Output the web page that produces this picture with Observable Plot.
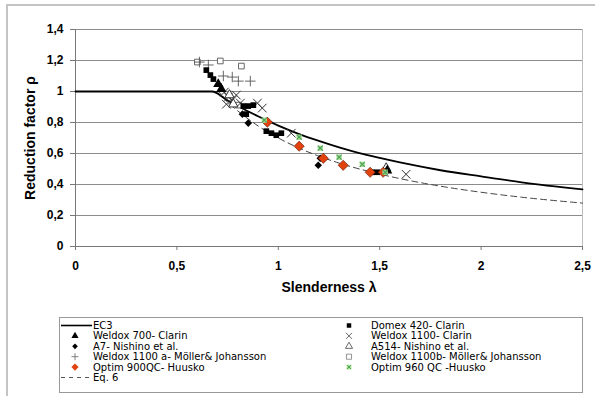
<!DOCTYPE html>
<html>
<head>
<meta charset="utf-8">
<script src="https://cdn.jsdelivr.net/npm/d3@7"></script>
<script src="https://cdn.jsdelivr.net/npm/@observablehq/plot@0.6"></script>
<style>
  html, body { margin: 0; padding: 0; background: #fff; }
  body { width: 595px; height: 396px; position: relative; overflow: hidden; font-family: "Liberation Sans", Arial, sans-serif; }
  #frame { position: absolute; left: 6px; top: 4px; width: 620px; height: 420px; border-left: 2px solid #c4c4c4; border-top: 2px solid #c4c4c4; }
  #chart { position: absolute; left: 0; top: 0; }
  #chart svg text { font-weight: bold; }
  #legend { position: absolute; left: 59px; top: 317px; width: 522px; height: 74px; border: 1px solid #999; background: #fff; }
</style>
</head>
<body>
<div id="frame"></div>
<div id="chart"></div>
<div id="legend"></div>
<script>
// ---- data ----
const xTicks = [0, 0.5, 1, 1.5, 2, 2.5];
const yTicks = [0, 0.2, 0.4, 0.6, 0.8, 1, 1.2, 1.4];

const ec3Lambda = [0, 0.673, 0.75, 0.8, 0.9, 1.0, 1.1, 1.2, 1.3, 1.4, 1.5, 1.6, 1.8, 2.0, 2.2, 2.5];
const ec3Rho    = [1, 1, 0.942, 0.906, 0.84, 0.78, 0.727, 0.681, 0.639, 0.602, 0.571, 0.542, 0.492, 0.452, 0.414, 0.368];

const eq6Lambda = [0, 0.7, 0.75, 0.8, 0.9, 1.0, 1.1, 1.2, 1.3, 1.4, 1.5, 1.6, 1.8, 2.0, 2.2, 2.5];
const eq6Rho    = [1, 1, 0.93, 0.875, 0.778, 0.70, 0.636, 0.583, 0.538, 0.50, 0.467, 0.438, 0.389, 0.35, 0.318, 0.28];

const weldox700Lambda = [0.704, 0.719, 1.537];
const weldox700Rho    = [1.048, 1.016, 0.49];

const domexLambda = [0.645, 0.665, 0.68, 0.828, 0.852, 0.877, 0.842, 0.941, 0.966, 0.99, 1.015, 1.463, 1.488];
const domexRho    = [1.138, 1.106, 1.08, 0.906, 0.906, 0.912, 0.854, 0.744, 0.731, 0.718, 0.731, 0.479, 0.479];

const a7Lambda = [0.852, 0.823, 1.197, 1.207];
const a7Rho    = [0.796, 0.854, 0.524, 0.569];

const weldox1100Lambda = [0.734, 0.754, 0.773, 0.793, 0.744, 0.813, 0.897, 0.921, 1.064, 1.63];
const weldox1100Rho    = [0.996, 0.964, 0.944, 0.977, 0.918, 0.925, 0.925, 0.893, 0.731, 0.466];

const a514Lambda = [0.759, 0.778, 1.532];
const a514Rho    = [0.977, 0.918, 0.505];

const weldox1100aLambda = [0.611, 0.655, 0.729, 0.773, 0.803, 0.862];
const weldox1100aRho    = [1.19, 1.171, 1.10, 1.093, 1.067, 1.067];

const weldox1100bLambda = [0.601, 0.714, 0.818, 0.803];
const weldox1100bRho    = [1.19, 1.197, 1.164, 0.912];

const optim900Lambda = [0.946, 1.103, 1.222, 1.32, 1.453, 1.517];
const optim900Rho    = [0.802, 0.647, 0.569, 0.524, 0.479, 0.479];

const optim960Lambda = [0.931, 1.103, 1.207, 1.30, 1.414, 1.527];
const optim960Rho    = [0.815, 0.705, 0.634, 0.576, 0.53, 0.479];

const legendLeft = ["EC3", "Weldox 700- Clarin", "A7- Nishino et al.", "Weldox 1100 a- Möller& Johansson", "Optim 900QC- Huusko", "Eq. 6"];
const legendRight = ["Domex 420- Clarin", "Weldox 1100- Clarin", "A514- Nishino et al.", "Weldox 1100b- Möller& Johansson", "Optim 960 QC -Huusko"];

// ---- helpers ----
const zip = (xs, ys) => xs.map((x, i) => ({x, y: ys[i]}));
const comma = d => String(d).replace(".", ",");

const red = "#e2430e";
const greenFill = "#a6e48a";
const greenX = "#4f9a63";

const chart = Plot.plot({
  width: 595,
  height: 310,
  marginLeft: 75,
  marginRight: 13,
  marginTop: 29,
  marginBottom: 64,
  style: {fontFamily: "'Liberation Sans', Arial, sans-serif", fontSize: "12px", background: "transparent"},
  x: {domain: [0, 2.5]},
  y: {domain: [0, 1.4]},
  marks: [
    Plot.ruleY(yTicks, {stroke: "#8c8c8c", strokeWidth: 1}),
    Plot.ruleX([2.5], {stroke: "#bdbdbd"}),
    Plot.ruleX([0], {stroke: "#777"}),
    Plot.ruleY([0], {stroke: "#777"}),
    Plot.axisX({ticks: xTicks, tickFormat: comma, tickSize: 4, tickPadding: 11, stroke: "#777", fontSize: 12, label: null}),
    Plot.axisY({ticks: yTicks, tickFormat: comma, tickSize: 5, tickPadding: 7, stroke: "#777", fontSize: 12, label: null}),
    Plot.text(["Slenderness λ"], {frameAnchor: "bottom", dy: 45, fontSize: 14, fontWeight: "bold", textAnchor: "middle"}),
    Plot.text(["Reduction factor ρ"], {frameAnchor: "left", dx: -45, rotate: -90, fontSize: 14, fontWeight: "bold", textAnchor: "middle"}),
    Plot.line(zip(eq6Lambda, eq6Rho), {x: "x", y: "y", stroke: "#444", strokeWidth: 1, strokeDasharray: "6,4", curve: "monotone-x"}),
    Plot.line(zip(ec3Lambda, ec3Rho), {x: "x", y: "y", stroke: "#000", strokeWidth: 1.8, curve: "monotone-x"}),
    Plot.dot(zip(weldox1100bLambda, weldox1100bRho), {x: "x", y: "y", symbol: "square", r: 3.2, fill: "#fff", stroke: "#666", strokeWidth: 1}),
    Plot.dot(zip(weldox1100aLambda, weldox1100aRho), {x: "x", y: "y", symbol: "plus", r: 3.5, stroke: "#555", strokeWidth: 0.9}),
    Plot.dot(zip(weldox1100Lambda, weldox1100Rho), {x: "x", y: "y", symbol: "times", r: 4, stroke: "#333", strokeWidth: 1}),
    Plot.dot(zip(a514Lambda, a514Rho), {x: "x", y: "y", symbol: "triangle", r: 3.5, fill: "#fff", stroke: "#333", strokeWidth: 1}),
    Plot.dot(zip(domexLambda, domexRho), {x: "x", y: "y", symbol: "square", r: 3.2, fill: "#000", stroke: "none"}),
    Plot.dot(zip(weldox700Lambda, weldox700Rho), {x: "x", y: "y", symbol: "triangle", r: 3.8, fill: "#000", stroke: "none"}),
    Plot.dot(zip(a7Lambda, a7Rho), {x: "x", y: "y", symbol: "diamond2", r: 3.4, fill: "#000", stroke: "none"}),
    Plot.dot(zip(optim900Lambda, optim900Rho), {x: "x", y: "y", symbol: "diamond2", r: 4.6, fill: red, stroke: "#5a1a06", strokeWidth: 0.6}),
    Plot.dot(zip(optim960Lambda, optim960Rho), {x: "x", y: "y", symbol: "square", r: 3, fill: greenFill, stroke: "none"}),
    Plot.dot(zip(optim960Lambda, optim960Rho), {x: "x", y: "y", symbol: "times", r: 2.4, stroke: greenX, strokeWidth: 1.1})
  ]
});
document.getElementById("chart").appendChild(chart);

// ---- legend ----
const lg = d3.select("#legend").append("svg").attr("width", 522).attr("height", 74)
  .style("font-family", "'DejaVu Sans', 'Liberation Sans', Arial, sans-serif").style("font-size", "10px");
const rowY = i => 7.5 + i * 10.4;
const sym = (type, size) => d3.symbol().type(type).size(size)();
legendLeft.forEach((t, i) => {
  const g = lg.append("g").attr("transform", `translate(15,${rowY(i)})`);
  if (i === 0) g.append("line").attr("x1", -14).attr("x2", 17).attr("stroke", "#000").attr("stroke-width", 1.6);
  if (i === 1) g.append("path").attr("d", sym(d3.symbolTriangle, 22)).attr("fill", "#000");
  if (i === 2) g.append("path").attr("d", sym(d3.symbolSquare, 16)).attr("transform", "rotate(45)").attr("fill", "#000");
  if (i === 3) g.append("path").attr("d", "M-3.5,0H3.5M0,-3.5V3.5").attr("stroke", "#666").attr("stroke-width", 0.8);
  if (i === 4) g.append("path").attr("d", sym(d3.symbolSquare, 26)).attr("transform", "rotate(45)").attr("fill", red);
  if (i === 5) g.append("line").attr("x1", -14).attr("x2", 17).attr("stroke", "#555").attr("stroke-dasharray", "4,4");
  lg.append("text").attr("x", 33).attr("y", rowY(i)).attr("dy", "0.35em").text(t);
});
legendRight.forEach((t, i) => {
  const g = lg.append("g").attr("transform", `translate(289,${rowY(i)})`);
  if (i === 0) g.append("path").attr("d", sym(d3.symbolSquare, 20)).attr("fill", "#000");
  if (i === 1) g.append("path").attr("d", "M-3,-3L3,3M-3,3L3,-3").attr("stroke", "#444").attr("stroke-width", 0.8);
  if (i === 2) g.append("path").attr("d", sym(d3.symbolTriangle, 22)).attr("fill", "none").attr("stroke", "#444").attr("stroke-width", 0.8);
  if (i === 3) g.append("path").attr("d", sym(d3.symbolSquare, 26)).attr("fill", "none").attr("stroke", "#777").attr("stroke-width", 0.8);
  if (i === 4) {
    g.append("path").attr("d", sym(d3.symbolSquare, 22)).attr("fill", greenFill);
    g.append("path").attr("d", "M-2,-2L2,2M-2,2L2,-2").attr("stroke", greenX).attr("stroke-width", 1);
  }
  lg.append("text").attr("x", 311).attr("y", rowY(i)).attr("dy", "0.35em").text(t);
});
</script>
</body>
</html>
